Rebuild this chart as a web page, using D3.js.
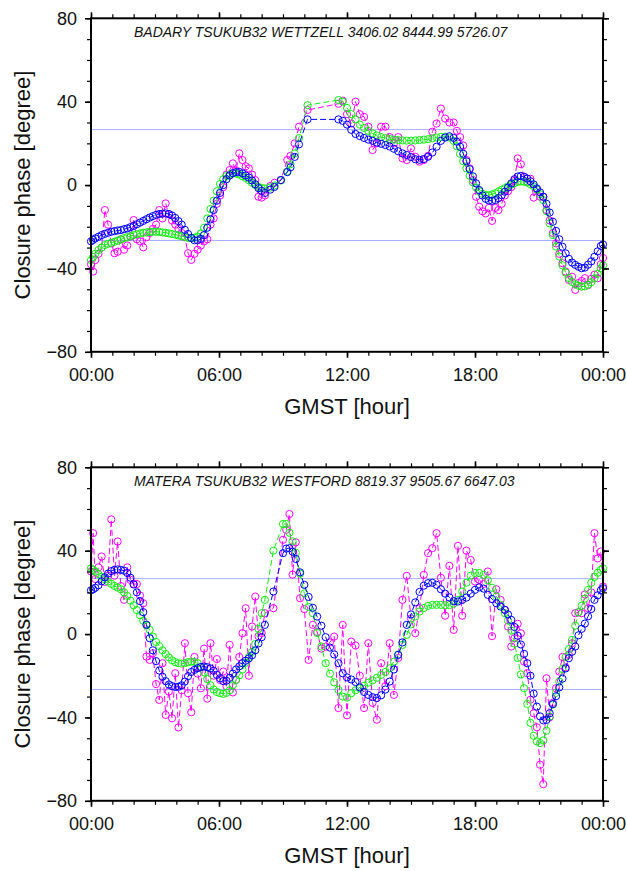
<!DOCTYPE html>
<html>
<head>
<meta charset="utf-8">
<script src="https://cdn.jsdelivr.net/npm/d3@7"></script>
<style>
  body { margin: 0; background: #fff; }
  svg { display: block; }
</style>
</head>
<body>
<script>
// ---- data ----
let topTitle = "BADARY TSUKUB32 WETTZELL 3406.02 8444.99 5726.07";
let bottomTitle = "MATERA TSUKUB32 WESTFORD 8819.37 9505.67 6647.03";

let xTickValues = [0, 6, 12, 18, 24];
let xTickLabels = ["00:00", "06:00", "12:00", "18:00", "00:00"];
let yTickValues = [-80, -40, 0, 40, 80];
let refLevels = [26.6, -26.6];

let topHours = [
  0.0, 0.1, 0.2, 0.35, 0.5, 0.65, 0.8, 0.95, 1.1, 1.25,
  1.4, 1.55, 1.7, 1.85, 2.0, 2.15, 2.3, 2.45, 2.6, 2.75,
  2.9, 3.05, 3.2, 3.35, 3.5, 3.65, 3.8, 3.95, 4.1, 4.25,
  4.4, 4.55, 4.7, 4.85, 5.0, 5.15, 5.3, 5.45, 5.6, 5.75,
  5.9, 6.05, 6.2, 6.35, 6.5, 6.65, 6.8, 6.95, 7.1, 7.25,
  7.4, 7.55, 7.7, 7.85, 8.0, 8.15, 8.4, 8.6, 8.9, 9.2,
  9.35, 9.55, 9.75, 10.15, 11.6, 11.8, 12.0, 12.2, 12.4, 12.6,
  12.8, 13.0, 13.2, 13.4, 13.6, 13.8, 14.0, 14.2, 14.4, 14.6,
  14.8, 15.0, 15.2, 15.4, 15.6, 15.8, 16.0, 16.2, 16.4, 16.6,
  16.8, 17.0, 17.15, 17.3, 17.45, 17.6, 17.75, 17.9, 18.05, 18.2,
  18.35, 18.5, 18.65, 18.8, 18.95, 19.1, 19.25, 19.4, 19.55, 19.7,
  19.85, 20.0, 20.15, 20.3, 20.45, 20.6, 20.75, 20.9, 21.05, 21.2,
  21.35, 21.5, 21.65, 21.8, 21.95, 22.1, 22.25, 22.4, 22.55, 22.7,
  22.85, 23.0, 23.15, 23.3, 23.45, 23.6, 23.75, 23.9, 24.0
];

let topBlue = [
  -27, -26.3, -25.6, -24.8, -24, -23.4, -22.9, -22.4, -22.1, -21.8,
  -21.6, -21.2, -20.8, -20.2, -19.6, -18.8, -18, -17.2, -16.4, -15.6,
  -14.9, -14.3, -13.9, -13.7, -13.6, -13.9, -14.6, -15.8, -17.3, -19,
  -21.5, -23.5, -25.4, -26.5, -26.5, -25.8, -24, -20.5, -16.5, -12,
  -7.5, -3.8, 0, 2.8, 4.6, 5.7, 6.2, 6.3, 5.6, 4.6,
  3.6, 2.2, 0.4, -1.5, -2.8, -3.8, -2.2, -0.9, 2.4, 6.2,
  8.5, 13.5, 19.5, 31.5, 31.5, 30.8, 29, 26.5, 24.5, 23.5,
  22.6, 21.8, 21.2, 20.4, 19.8, 19.2, 18.5, 17.4, 16.2, 15.2,
  14.4, 13.4, 12.4, 12.1, 12.5, 13.6, 15.6, 18.4, 21.2, 22.8,
  23.4, 22.6, 20.8, 18.4, 15, 11.4, 7.6, 4.2, 0.8, -2.4,
  -5, -6.6, -7.4, -7.6, -7.2, -6.3, -4.9, -3.2, -1.2, 0.8,
  2.8, 4.1, 4.4, 3.9, 3.1, 1.8, 0.3, -1.6, -3.5, -5.6,
  -9, -13.2, -17.6, -22, -26, -29.6, -32.8, -35.4, -37.2, -38.3,
  -39.2, -39.9, -39.6, -38.2, -36.6, -34.4, -31.8, -29.2, -28.5
];

let topGreen = [
  -36, -34.5, -33, -31.2, -30, -28.8, -28.2, -27.7, -27.2, -26.7,
  -26.1, -25.5, -25, -24.5, -24, -23.6, -23.2, -22.9, -22.7, -22.5,
  -22.4, -22.4, -22.5, -22.7, -22.9, -23.2, -23.5, -23.8, -24.2, -24.6,
  -24.9, -25.3, -25.5, -25.3, -24.7, -23.2, -20.5, -16, -11.5, -7.5,
  -3, 0.5, 2.8, 4.3, 5.1, 5.6, 5.5, 5, 4.2, 3.4,
  2.3, 1.1, 0, -0.9, -1.4, -1.6, -1.2, -0.2, 2.2, 6.5,
  10, 15.2, 22.5, 38.3, 40.8, 40, 37, 34, 31.5, 29,
  27.4, 26, 24.8, 23.8, 23, 22.5, 22.1, 21.8, 21.6, 21.4,
  21.3, 21.3, 21.4, 21.6, 21.8, 22, 22.4, 22.8, 23.1, 23.2,
  22.8, 21.2, 18.6, 15, 11.4, 8, 4.5, 1.3, -1.2, -3,
  -4.2, -4.8, -4.9, -4.5, -3.9, -3.1, -2.3, -1.5, -0.6, 0.2,
  0.9, 1.5, 1.7, 1.6, 1.2, 0.4, -0.6, -2.2, -4.4, -7.2,
  -12.5, -18.4, -24, -29.5, -34.3, -38.5, -42, -44.6, -46.5, -47.6,
  -48.3, -48.7, -48.6, -47.8, -46.6, -44.8, -42.6, -40, -38.5
];

let topMagenta = [
  -38, -41.5, -36, -33, -30, -12, -19, -28, -32.7, -32,
  -26, -31, -29, -24.7, -16.8, -26, -27, -29.9, -25, -23,
  -21, -19, -12, -16, -8.8, -14, -17, -19, -21, -23,
  -25, -32.7, -35.9, -33, -31, -29, -27, -26, -19, -16,
  -9, -5, -1, 5, 7.2, 10.4, 7, 15.2, 12, 9,
  8, 5, 2.4, -5.6, -6, -5, -0.5, 1.1, 2.4, 12,
  14, 20, 28, 36, 39, 40.5, 34, 29.5, 40, 34,
  32.7, 28, 16.8, 20, 28, 28, 23, 20, 23, 12.8,
  12, 17.6, 13.6, 11.2, 12, 14, 25.6, 29.5, 36.7, 31.9,
  30, 30, 26, 23, 19, 12, 8, 2.4, -5.6, -10.4,
  -12.6, -13.6, -11, -17.2, -11, -12, -9, -5, -3, -1,
  2, 12.8, 10, 4, 1.6, 3, -6, -2, -5.6, -5.6,
  -12, -17, -23, -28, -33, -37.5, -41.5, -45.5, -44, -50.3,
  -47, -46, -44.7, -48, -45, -43, -44.7, -38, -35
];

let bottomHours = [
  0.0, 0.1, 0.2, 0.35, 0.5, 0.65, 0.8, 0.95, 1.1, 1.25,
  1.4, 1.55, 1.7, 1.85, 2.0, 2.15, 2.3, 2.45, 2.6, 2.75,
  2.9, 3.05, 3.2, 3.35, 3.5, 3.65, 3.8, 3.95, 4.1, 4.25,
  4.4, 4.55, 4.7, 4.85, 5.0, 5.15, 5.3, 5.45, 5.6, 5.75,
  5.9, 6.05, 6.2, 6.35, 6.5, 6.65, 6.8, 6.95, 7.1, 7.25,
  7.4, 7.55, 7.7, 7.85, 8.0, 8.15, 8.55, 9.0, 9.15, 9.3,
  9.45, 9.6, 9.8, 10.0, 10.2, 10.4, 10.6, 10.8, 11.0, 11.2,
  11.4, 11.6, 11.8, 12.0, 12.2, 12.4, 12.6, 12.8, 13.0, 13.2,
  13.4, 13.6, 13.8, 14.0, 14.2, 14.4, 14.6, 14.8, 15.0, 15.2,
  15.4, 15.6, 15.8, 16.0, 16.2, 16.4, 16.6, 16.8, 17.0, 17.2,
  17.4, 17.6, 17.8, 18.0, 18.2, 18.4, 18.6, 18.8, 19.0, 19.2,
  19.4, 19.55, 19.7, 19.85, 20.0, 20.15, 20.3, 20.45, 20.6, 20.75,
  20.9, 21.05, 21.2, 21.35, 21.5, 21.65, 21.8, 21.95, 22.1, 22.25,
  22.4, 22.55, 22.7, 22.85, 23.0, 23.15, 23.3, 23.45, 23.6, 23.75,
  23.9, 24.0
];

let bottomBlue = [
  21, 21.5, 22.2, 23.4, 25.3, 27.2, 29, 30.2, 30.8, 31,
  30.8, 30.4, 29.3, 27, 23.8, 20, 15.8, 10.5, 4.5, -2,
  -7.8, -13, -17.5, -20.5, -22.6, -24.2, -25, -25.4, -25.3, -24.6,
  -22.8, -20.2, -18.2, -17.2, -16.4, -15.8, -15.6, -15.9, -16.5, -17.6,
  -19.6, -21.2, -22.6, -22.4, -21, -19, -17, -15.5, -14, -12.8,
  -11.7, -10.2, -7.8, -4.5, -1.5, 4.4, 20.4, 38.8, 41, 41.2,
  39.5, 36, 29.6, 23.6, 17.8, 12.6, 8.4, 4, -1.5, -6.5,
  -9.8, -14, -18.8, -20.8, -21.8, -23, -25.6, -27.8, -29.2, -30.3,
  -30.7, -29.4, -26.6, -22.8, -17, -10, -4, 4.4, 9.4, 15.2,
  20.2, 23.2, 24.4, 24.6, 23.6, 21.5, 19.4, 17.6, 15.8, 15.6,
  16.4, 17.5, 19.4, 21.2, 22.4, 21.8, 18.8, 16.8, 14.8, 13.2,
  11.6, 9.4, 6.8, 3.4, -0.8, -5, -9.5, -14, -20, -28.6,
  -34.8, -39.5, -41.4, -41.2, -38, -33.6, -29.8, -25.6, -21.4, -16.5,
  -11.6, -8.5, -6, -0.6, 2.5, 5, 8.5, 12, 16.4, 18.6,
  21, 22
];

let bottomGreen = [
  31.5, 30.8, 30, 28.8, 27.5, 26.3, 25.2, 24.1, 23.1, 22.3,
  21.5, 20, 18.3, 16, 13.8, 11.5, 9, 6.4, 4.2, 2,
  -1.2, -3.8, -5.8, -7.8, -9.6, -11.2, -12.6, -13.5, -14, -14.2,
  -14, -13.5, -13.2, -13.4, -14, -15.8, -18.4, -21.6, -24.6, -26.6,
  -27.8, -28.4, -28.7, -28.2, -27, -24.6, -22, -19.8, -17, -13.8,
  -11, -8.6, -4.8, 2.5, 10, 16.4, 40, 52.8, 52.8, 48.6,
  44.5, 39, 29, 19.5, 13, 10, 0.5, -6, -14, -19,
  -23.2, -26.8, -30, -30.5, -28.4, -27, -26, -24.8, -23.3, -22.2,
  -21, -19.6, -18.2, -16.4, -13.2, -9.8, -5.2, -0.4, 4.6, 8.4,
  10.8, 12.5, 13.5, 14, 14, 14, 13.8, 13.9, 14.6, 16.4,
  20.4, 24.6, 28, 29.3, 29.3, 28.4, 25.8, 22.2, 18, 14,
  10, 6.4, 1.6, -4.6, -11.5, -19.4, -26, -33.5, -42.6, -48.8,
  -51.5, -52.3, -51, -46.4, -39.6, -33.8, -28.2, -22.8, -16.8, -11,
  -7.2, -2.8, 4, 10.4, 13.6, 17, 21.2, 24.6, 27.4, 29.4,
  30.8, 31.5
];

let bottomMagenta = [
  30, 48.4, 26.4, 32, 37.2, 25, 28, 55, 28, 44.4,
  23, 16.4, 32, 26, 24, 24, 18.5, 14.8, -10.8, -12.4,
  -9.2, -24, -31.6, -14, -38.8, -27.6, -40.4, -18.8, -44.8, -27,
  -4.4, -28.4, -37.5, -11, -19, -26, -7, -31, -4.4, -20,
  -12, -22, -18, -25, -5.2, -28, -22, -11, 0.4, 12.4,
  -20, 3.6, 18, -1, 0.5, 10, 12.4, 45.2, 50, 57.6,
  28.5, 44, 17.2, 12, -12.4, 4.4, 1, -7, -6, -4,
  -1.2, -35.5, 4.4, -39, -3.6, -5.5, -20, -35.5, -4.4, -33,
  -41.1, -14, -25, -4.4, -29.2, -11.5, 16.4, 27.9, 7.5, 0.4,
  12.4, 28.4, 38.8, 41.2, 48.4, 27, 8.8, 32.7, 2, 42.3,
  8.8, 40, 35.5, 25.2, 26, 24, 30, -1, 21.5, 16.4,
  11.6, 3.6, -6, -2, 4.9, 0.4, -13.2, -18.8, -31.5, -38,
  -44.7, -62.7, -72, -21.2, -40, -33, -26, -18, -11, -16,
  -10, -4.4, 10, 10.5, 10, 19, 12.4, 20, 48.4, 36.3,
  39.6, 22.8
];

// ---- layout ----
let svgWidth = 627;
let svgHeight = 871;

let margin = { left: 91, right: 24 };
let chartWidth = svgWidth - margin.left - margin.right;
let chartHeight = 333.5;
let fontFamily = '"Liberation Sans", Arial, Helvetica, sans-serif';

// magenta first, then green, blue on top
let seriesColors = ["#ff00ff", "#11ee11", "#0000ff"];

let svg = d3.select('body')
    .append("svg")
    .attr("width", svgWidth)
    .attr("height", svgHeight);

let xScale = d3.scaleLinear().domain([0, 24]).range([0, chartWidth]);
let yScale = d3.scaleLinear().domain([-80, 80]).range([chartHeight, 0]);

let panels = [
    { top: 18.3, title: topTitle, hours: topHours, series: [topMagenta, topGreen, topBlue] },
    { top: 467.3, title: bottomTitle, hours: bottomHours, series: [bottomMagenta, bottomGreen, bottomBlue] }
];

function styleAxis(sel, width, labels) {
    sel.select(".domain").remove();
    sel.selectAll("line").attr("stroke", "#000").attr("stroke-width", width);
    if (!labels) {
        sel.selectAll("text").remove();
    } else {
        sel.selectAll("text")
            .attr("font-size", 18)
            .attr("font-family", fontFamily)
            .attr("fill", "#111");
    }
}

panels.forEach(function(panel) {
    let chartGroup = svg.append("g")
        .attr("transform", `translate(${margin.left}, ${panel.top})`);

    // light reference levels
    chartGroup.selectAll(".ref")
        .data(refLevels)
        .enter()
        .append("line")
        .attr("x1", 0)
        .attr("x2", chartWidth)
        .attr("y1", d => yScale(d))
        .attr("y2", d => yScale(d))
        .attr("stroke", "#a9b0ff")
        .attr("stroke-width", 1);

    let drawLine = d3.line()
        .x(d => xScale(d[0]))
        .y(d => yScale(d[1]));

    panel.series.forEach(function(values, i) {
        let points = d3.zip(panel.hours, values);
        let color = seriesColors[i];

        chartGroup.append("path")
            .datum(points)
            .attr("d", drawLine)
            .attr("fill", "none")
            .attr("stroke", color)
            .attr("stroke-width", 1)
            .attr("stroke-dasharray", "6,3");

        chartGroup.append("g")
            .selectAll("circle")
            .data(points)
            .enter()
            .append("circle")
            .attr("cx", d => xScale(d[0]))
            .attr("cy", d => yScale(d[1]))
            .attr("r", 3.6)
            .attr("fill", "none")
            .attr("stroke", color)
            .attr("stroke-width", 1);
    });

    // minor ticks
    let minorX = d3.range(0, 25, 1);
    let minorY = d3.range(-80, 81, 10);

    chartGroup.append("g")
        .attr("transform", `translate(0, ${chartHeight})`)
        .call(d3.axisBottom(xScale).tickValues(minorX).tickSize(4).tickFormat(""))
        .call(styleAxis, 1.2, false);
    chartGroup.append("g")
        .call(d3.axisTop(xScale).tickValues(minorX).tickSize(4).tickFormat(""))
        .call(styleAxis, 1.2, false);
    chartGroup.append("g")
        .call(d3.axisLeft(yScale).tickValues(minorY).tickSize(4).tickFormat(""))
        .call(styleAxis, 1.2, false);
    chartGroup.append("g")
        .attr("transform", `translate(${chartWidth}, 0)`)
        .call(d3.axisRight(yScale).tickValues(minorY).tickSize(4).tickFormat(""))
        .call(styleAxis, 1.2, false);

    // major ticks
    chartGroup.append("g")
        .attr("transform", `translate(0, ${chartHeight})`)
        .call(d3.axisBottom(xScale).tickValues(xTickValues).tickSize(6).tickPadding(10.5)
            .tickFormat((d, i) => xTickLabels[i]))
        .call(styleAxis, 1.6, true);
    chartGroup.append("g")
        .call(d3.axisTop(xScale).tickValues(xTickValues).tickSize(6).tickFormat(""))
        .call(styleAxis, 1.6, false);
    chartGroup.append("g")
        .call(d3.axisLeft(yScale).tickValues(yTickValues).tickSize(6).tickPadding(8)
            .tickFormat(d3.format("d")))
        .call(styleAxis, 1.6, true);
    chartGroup.append("g")
        .attr("transform", `translate(${chartWidth}, 0)`)
        .call(d3.axisRight(yScale).tickValues(yTickValues).tickSize(6).tickFormat(""))
        .call(styleAxis, 1.6, false);

    // frame
    chartGroup.append("rect")
        .attr("x", 0)
        .attr("y", 0)
        .attr("width", chartWidth)
        .attr("height", chartHeight)
        .attr("fill", "none")
        .attr("stroke", "#000")
        .attr("stroke-width", 2);

    // station title
    chartGroup.append("text")
        .attr("x", 43)
        .attr("y", 18.3)
        .attr("font-family", fontFamily)
        .attr("font-size", 14)
        .attr("font-style", "italic")
        .attr("fill", "#111")
        .text(panel.title);

    // axis titles
    chartGroup.append("text")
        .attr("transform", `translate(${29.5 - margin.left}, ${chartHeight / 2}) rotate(-90)`)
        .attr("text-anchor", "middle")
        .attr("font-family", fontFamily)
        .attr("font-size", 22)
        .attr("fill", "#111")
        .text("Closure phase [degree]");

    chartGroup.append("text")
        .attr("x", chartWidth / 2)
        .attr("y", chartHeight + 62)
        .attr("text-anchor", "middle")
        .attr("font-family", fontFamily)
        .attr("font-size", 22)
        .attr("fill", "#111")
        .text("GMST [hour]");
});
</script>
</body>
</html>
